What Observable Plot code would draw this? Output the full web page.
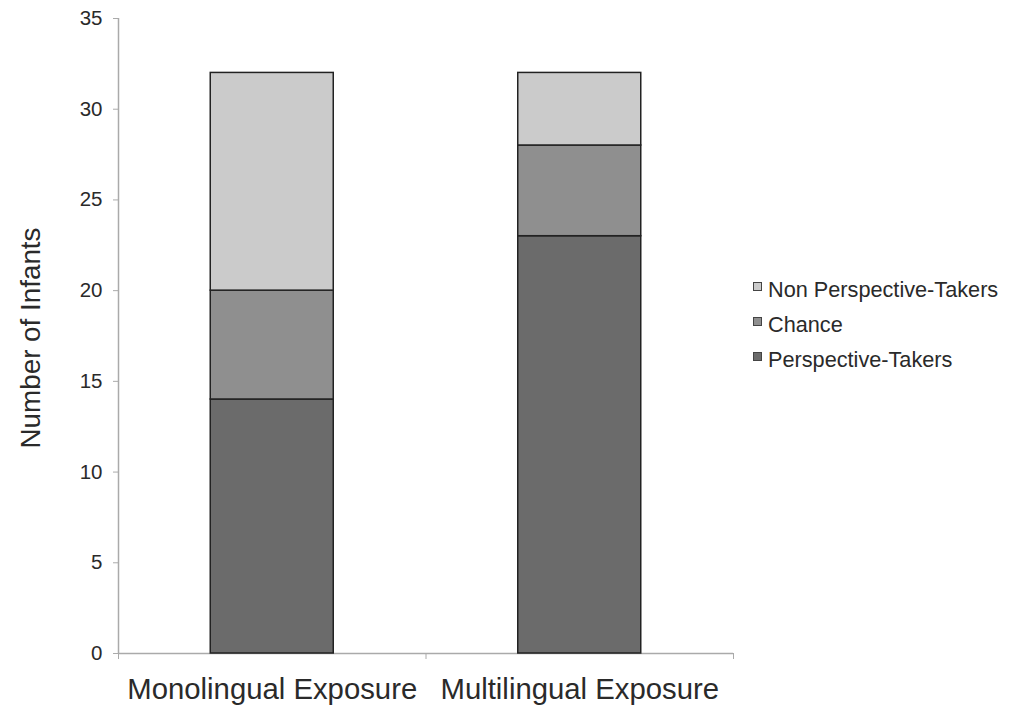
<!DOCTYPE html>
<html>
<head>
<meta charset="utf-8">
<script src="https://cdn.jsdelivr.net/npm/d3@7"></script>
<script src="https://cdn.jsdelivr.net/npm/@observablehq/plot@0.6"></script>
<style>
  body { margin: 0; background: #fff; font-family: "Liberation Sans", Arial, sans-serif; }
  #wrap { position: relative; width: 1009px; height: 709px; }
  #legend { position: absolute; left: 753px; top: 272px; font-size: 21.7px; color: #2a2a2a; }
  .item { display: flex; align-items: center; height: 35px; }
  .sw { width: 7px; height: 7px; border: 1px solid #444; margin-right: 6px; margin-top: -6px; }
</style>
</head>
<body>
<div id="wrap"></div>
<script>
const categories = ["Monolingual Exposure", "Multilingual Exposure"];
const groups = ["Perspective-Takers", "Chance", "Non Perspective-Takers"];
const perspectiveTakers = [14, 23];
const chance = [6, 5];
const nonPerspectiveTakers = [12, 4];
const colors = ["#6b6b6b", "#8f8f8f", "#cbcbcb"];
const yTicks = [0, 5, 10, 15, 20, 25, 30, 35];
const yLabel = "Number of Infants";

const series = [perspectiveTakers, chance, nonPerspectiveTakers];
const rows = [];
categories.forEach((c, i) => {
  let base = 0;
  series.forEach((s, g) => {
    rows.push({cat: c, idx: i, group: groups[g], y1: base, y2: base + s[i]});
    base += s[i];
  });
});

const chart = Plot.plot({
  width: 1009,
  height: 709,
  marginLeft: 118,
  marginRight: 276,
  marginTop: 18,
  marginBottom: 56,
  style: {fontFamily: "Liberation Sans, Arial, sans-serif", color: "#2a2a2a", background: "#fff"},
  x: {type: "linear", domain: [0, categories.length]},
  y: {domain: [0, 35]},
  color: {domain: groups, range: colors},
  marks: [
    Plot.ruleX([0], {stroke: "#aaa", strokeWidth: 1.5}),
    Plot.ruleY([0], {stroke: "#aaa", strokeWidth: 1.5}),
    Plot.axisY({ticks: yTicks, tickSize: 5, text: null, stroke: "#aaa", label: null}),
    Plot.text(yTicks, {y: d => d, frameAnchor: "left", dx: -16, textAnchor: "end", text: d => String(d), fontSize: 20.5, fill: "#2a2a2a"}),
    Plot.axisX({ticks: d3.range(categories.length + 1), tickSize: 6, tickFormat: () => "", stroke: "#aaa", label: null}),
    Plot.rectY(rows, {
      x1: d => d.idx + 0.3, x2: d => d.idx + 0.7,
      y1: "y1", y2: "y2",
      fill: "group", stroke: "#222", strokeWidth: 1.5
    }),
    Plot.text(categories, {x: (d, i) => i + 0.5, y: 0, dy: 36, text: d => d, fontSize: 29.3, fill: "#2a2a2a"}),
    Plot.text([yLabel], {frameAnchor: "left", dx: -87, dy: 2, rotate: -90, textAnchor: "middle", text: d => d, fontSize: 27.8, fill: "#2a2a2a"})
  ]
});
document.getElementById("wrap").appendChild(chart);

const legend = document.createElement("div");
legend.id = "legend";
[...groups].reverse().forEach(g => {
  const item = document.createElement("div");
  item.className = "item";
  const sw = document.createElement("div");
  sw.className = "sw";
  sw.style.background = colors[groups.indexOf(g)];
  const t = document.createElement("span");
  t.textContent = g;
  item.appendChild(sw);
  item.appendChild(t);
  legend.appendChild(item);
});
document.getElementById("wrap").appendChild(legend);
</script>
</body>
</html>
